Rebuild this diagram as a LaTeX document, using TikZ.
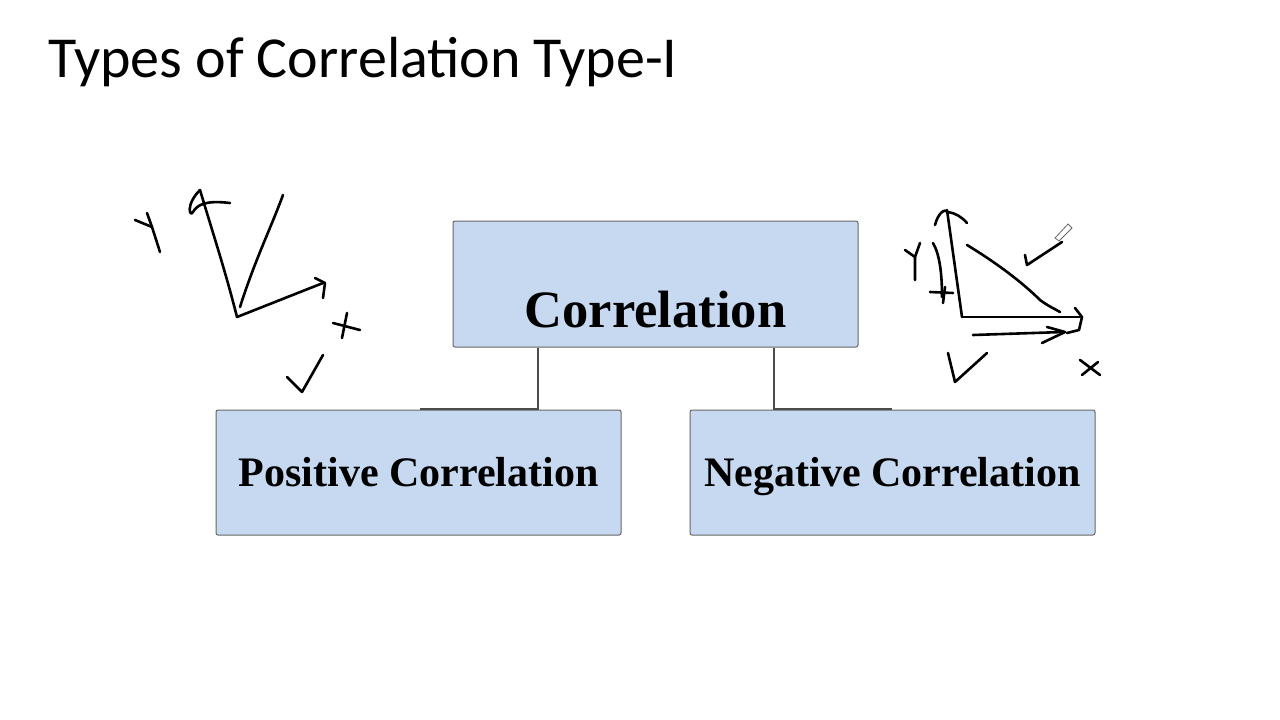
\documentclass[tikz,border=0pt]{standalone}
\usepackage{fontspec}
\setmainfont{Liberation Serif}
\newfontfamily\titlefont{Carlito}
\begin{document}
\begin{tikzpicture}[x=1pt,y=-1pt,
  box/.style={draw=black!60,fill=boxblue,rounded corners=2pt,line width=1pt,inner sep=0pt},
  conn/.style={draw=black!70,line width=1.5pt},
  ink/.style={line width=2.6pt,line cap=round,line join=round}]
\definecolor{boxblue}{HTML}{C6D9F0}
\useasboundingbox (0,0) rectangle (1280,720);
\node[anchor=west,font=\titlefont\fontsize{58}{66}\selectfont] (title) at (45,62) {Types of Correlation Type-I};
\node[box,minimum width=405,minimum height=126] (c) at (655.5,284) {};
\node[font=\bfseries\fontsize{52.5}{60}\selectfont,text height=36pt,text depth=0pt,inner sep=0pt,anchor=base] (ct) at (655.5,327) {Correlation};
\node[box,minimum width=405,minimum height=125] (p) at (418.5,472.5) {};
\node[font=\bfseries\fontsize{42}{50}\selectfont,inner sep=0pt,anchor=base] (pt) at (418.5,486) {Positive Correlation};
\node[box,minimum width=405,minimum height=125] (n) at (892.5,472.5) {};
\node[font=\bfseries\fontsize{42}{50}\selectfont,inner sep=0pt,anchor=base] (nt) at (892.5,486) {Negative Correlation};
\coordinate (pc) at (538,409);
\coordinate (pl) at (420,409);
\coordinate (nc) at (774,409);
\coordinate (nr) at (892,409);
\draw[conn] (c.south -| pc) -- (pc) -- (pl);
\draw[conn] (c.south -| nc) -- (nc) -- (nr);
% left sketch
\draw[ink] (135,220) -- (152,227) -- (160,252);
\draw[ink] (147,213) -- (152,227);
\draw[ink] (237,317) .. controls (225,270) and (215,240) .. (200,190);
\draw[ink] (200,190) .. controls (185,205) and (190,218) .. (193,212) .. controls (197,205) and (205,200) .. (230,203);
\draw[ink] (240,307) .. controls (255,260) and (270,230) .. (283,195);
\draw[ink] (237,317) -- (323,283);
\draw[ink] (315,278) -- (325,283) -- (323,298);
\draw[ink] (333,323) -- (360,330);
\draw[ink] (347,313) -- (342,338);
\draw[ink] (287,377) -- (302,392) -- (323,355);
% right sketch
\draw[ink] (962,317) -- (947,210);
\draw[ink] (935,225) .. controls (938,213) and (945,208) .. (948,212) .. controls (955,213) and (962,217) .. (967,223);
\draw[ink] (905,250) -- (915,257) -- (915,280);
\draw[ink] (920,243) -- (915,257);
\draw[ink] (933,243) .. controls (940,255) and (942,275) .. (942,297);
\draw[ink] (930,292) -- (953,293);
\draw[ink] (945,287) -- (943,303);
\draw[ink] (967,245) .. controls (1000,265) and (1025,285) .. (1040,300) .. controls (1048,306) and (1055,309) .. (1060,312);
\draw[ink] (962,317) -- (1082,317);
\draw[ink] (1075,308) -- (1082,317) -- (1079,330) -- (1067,333);
\draw[ink] (973,335) -- (1063,332);
\draw[ink] (1047,327) -- (1065,332) -- (1042,343);
\draw[ink] (1025,255) -- (1027,265) -- (1062,242);
\draw[ink] (948,353) -- (955,382) -- (987,353);
\draw[ink] (1080,360) -- (1100,375);
\draw[ink] (1082,375) -- (1098,362);
\draw[black!60,line width=0.8pt] (1055,238) -- (1068,224) -- (1072,228) -- (1059,241) -- cycle;
\end{tikzpicture}
\end{document}
